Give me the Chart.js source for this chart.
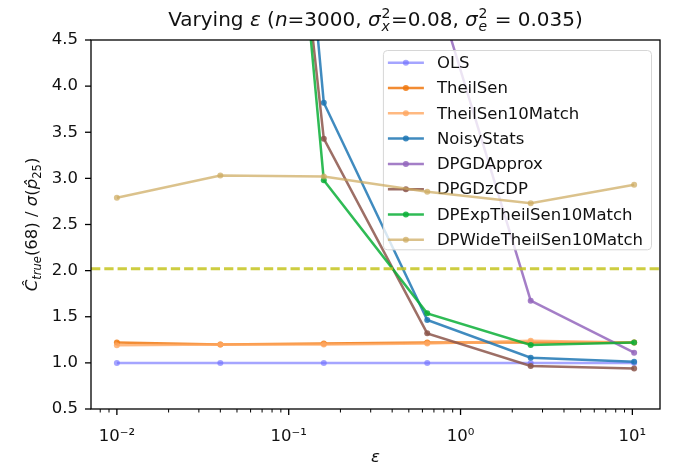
<!DOCTYPE html>
<html><head><meta charset="utf-8">
<script src="https://cdn.jsdelivr.net/npm/chart.js@4"></script>
<style>html,body{margin:0;padding:0;background:#fff;}canvas{display:block;}</style>
</head><body>
<canvas id="c" width="676" height="465"></canvas>
<script>
// ---- data ----
const epsilons = [0.01, 0.04, 0.16, 0.64, 2.56, 10.24];
const olsValues = [1.0, 1.0, 1.0, 1.0, 1.0, 1.0];
const theilSenValues = [1.22, 1.20, 1.21, 1.22, 1.22, 1.22];
const theilSen10MatchValues = [1.19, 1.20, 1.20, 1.21, 1.24, 1.22];
const noisyStatsValues = [30, 16.1, 3.82, 1.465, 1.056, 1.013];
const dpgdApproxValues = [30, 20, 10, 5.36, 1.674, 1.11];
const dpgdzcdpValues = [28, 13.7, 3.43, 1.32, 0.966, 0.94];
const dpExpTheilSenValues = [29, 15.2, 2.98, 1.537, 1.194, 1.22];
const dpWideTheilSenValues = [2.79, 3.03, 3.02, 2.855, 2.73, 2.93];
const seriesNames = ['OLS', 'TheilSen', 'TheilSen10Match', 'NoisyStats', 'DPGDApprox', 'DPGDzCDP', 'DPExpTheilSen10Match', 'DPWideTheilSen10Match'];
const seriesValues = [olsValues, theilSenValues, theilSen10MatchValues, noisyStatsValues, dpgdApproxValues, dpgdzcdpValues, dpExpTheilSenValues, dpWideTheilSenValues];
const referenceLevel = 2.02;
const yTickValues = [0.5, 1.0, 1.5, 2.0, 2.5, 3.0, 3.5, 4.0, 4.5];
const xMajorTicks = [0.01, 0.1, 1, 10];
const xMajorLabels = ['10\u207B\u00B2', '10\u207B\u00B9', '10\u2070', '10\u00B9'];

// ---- styles ----
const FAM = '"DejaVu Sans"';
const TXT = '#111';
const colors = [
  'rgba(110,110,255,0.62)',
  'rgba(240,120,15,0.85)',
  'rgba(255,168,98,0.8)',
  'rgba(31,119,180,0.85)',
  'rgba(148,103,189,0.85)',
  'rgba(140,86,75,0.85)',
  'rgba(10,175,55,0.85)',
  'rgba(205,170,95,0.72)'
];
const xMin = 0.00707, xMax = 14.48;
const xMinorTicks = [];
[0.001, 0.01, 0.1, 1].forEach(d => { for (let k = 2; k <= 9; k++) { const v = +(d * k).toPrecision(6); if (v >= xMin && v <= xMax) xMinorTicks.push(v); } });
const xAllTicks = [...xMajorTicks, ...xMinorTicks].sort((a, b) => a - b);
const isMajor = v => xMajorTicks.some(m => Math.abs(m - v) / m < 1e-6);

const datasets = seriesNames.map((name, i) => ({
  label: name,
  data: epsilons.map((x, j) => ({ x: x, y: seriesValues[i][j] })),
  borderColor: colors[i],
  backgroundColor: colors[i],
  pointBackgroundColor: colors[i],
  pointBorderWidth: 0,
  pointRadius: 3,
  borderWidth: 2.5,
  tension: 0,
  order: seriesNames.length - 1 - i,
  clip: 0
}));

function drawRich(ctx, segs, size, x, y, align) {
  const font = (it, s) => (it ? 'italic ' : '') + s + 'px ' + FAM;
  ctx.textAlign = 'left'; ctx.textBaseline = 'alphabetic';
  const meas = segs.map(sg => {
    if (sg.stack) {
      ctx.font = font(false, size * 0.7); const a = ctx.measureText(sg.sup).width;
      ctx.font = font(true, size * 0.7); const b = ctx.measureText(sg.sub).width;
      return Math.max(a, b) + size * 0.08;
    }
    ctx.font = font(sg.it, size * (sg.sc || 1));
    return ctx.measureText(sg.t).width;
  });
  const total = meas.reduce((a, b) => a + b, 0);
  let cx = align === 'center' ? x - total / 2 : x;
  segs.forEach((sg, i) => {
    if (sg.stack) {
      ctx.font = font(false, size * 0.7); ctx.fillText(sg.sup, cx + size * 0.04, y - size * 0.42);
      ctx.font = font(true, size * 0.7); ctx.fillText(sg.sub, cx + size * 0.04, y + size * 0.26);
    } else {
      ctx.font = font(sg.it, size * (sg.sc || 1));
      ctx.fillText(sg.t, cx, y + (sg.dy || 0) * size);
    }
    cx += meas[i];
  });
}

function drawLegend(chart) {
  const ctx = chart.ctx, a = chart.chartArea;
  const fs = 16.5;
  ctx.save();
  ctx.font = fs + 'px ' + FAM;
  let maxW = 0;
  chart.data.datasets.forEach(d => { maxW = Math.max(maxW, ctx.measureText(d.label).width); });
  const w = 54 + maxW + 8, pitch = 25.3, n = chart.data.datasets.length;
  const h = 12.7 + (n - 1) * pitch + 9.5;
  const left = a.right - 9 - w, top = a.top + 10;
  ctx.beginPath();
  ctx.roundRect(left + 0.5, top + 0.5, w, h, 4);
  ctx.fillStyle = 'rgba(255,255,255,0.8)';
  ctx.fill();
  ctx.strokeStyle = '#d6d6d6'; ctx.lineWidth = 1; ctx.stroke();
  chart.data.datasets.forEach((d, i) => {
    const cy = top + 12.7 + i * pitch;
    ctx.strokeStyle = d.borderColor; ctx.lineWidth = 2.5; ctx.lineCap = 'butt';
    ctx.beginPath(); ctx.moveTo(left + 5, cy); ctx.lineTo(left + 41, cy); ctx.stroke();
    ctx.fillStyle = d.borderColor;
    ctx.beginPath(); ctx.arc(left + 23, cy, 3, 0, Math.PI * 2); ctx.fill();
    ctx.fillStyle = TXT; ctx.textAlign = 'left'; ctx.textBaseline = 'middle';
    ctx.fillText(d.label, left + 54, cy + 1);
  });
  ctx.restore();
}

const decor = {
  id: 'decor',
  beforeDatasetDraw(chart, args) {
    if (args.index === chart.data.datasets.length - 1) drawLegend(chart);
  },
  afterDatasetsDraw(chart) {
    const ctx = chart.ctx, a = chart.chartArea, y = chart.scales.y.getPixelForValue(referenceLevel);
    ctx.save();
    ctx.beginPath(); ctx.rect(a.left, a.top, a.right - a.left, a.bottom - a.top); ctx.clip();
    ctx.strokeStyle = 'rgba(196,196,30,0.85)'; ctx.lineWidth = 3; ctx.setLineDash([9.3, 4]);
    ctx.beginPath(); ctx.moveTo(a.left, y); ctx.lineTo(a.right, y); ctx.stroke();
    ctx.restore();
  },
  afterDraw(chart) {
    const ctx = chart.ctx, a = chart.chartArea, xs = chart.scales.x, ys = chart.scales.y;
    ctx.save();
    ctx.strokeStyle = '#000';
    // ticks
    xs.ticks.forEach(t => {
      const px = xs.getPixelForValue(t.value);
      const maj = isMajor(t.value);
      ctx.lineWidth = maj ? 1.3 : 1;
      ctx.beginPath(); ctx.moveTo(px, a.bottom); ctx.lineTo(px, a.bottom + (maj ? 6 : 3.5)); ctx.stroke();
    });
    ys.ticks.forEach(t => {
      const py = ys.getPixelForValue(t.value);
      ctx.lineWidth = 1.3;
      ctx.beginPath(); ctx.moveTo(a.left - 6, py); ctx.lineTo(a.left, py); ctx.stroke();
    });
    // frame
    ctx.lineWidth = 1.3;
    ctx.strokeRect(a.left, a.top, a.right - a.left, a.bottom - a.top);
    // title
    ctx.fillStyle = TXT;
    const cx = (a.left + a.right) / 2;
    drawRich(ctx, [
      { t: 'Varying ' }, { t: '\u03B5', it: true }, { t: ' (' }, { t: 'n', it: true }, { t: '=3000, ' },
      { t: '\u03C3', it: true }, { stack: true, sup: '2', sub: 'x' }, { t: '=0.08, ' },
      { t: '\u03C3', it: true }, { stack: true, sup: '2', sub: 'e' }, { t: ' = 0.035)' }
    ], 20, cx, 26, 'center');
    // x label
    drawRich(ctx, [{ t: '\u03B5', it: true }], 16.5, cx, 462, 'center');
    // y label
    ctx.translate(31, (a.top + a.bottom) / 2);
    ctx.rotate(-Math.PI / 2);
    drawRich(ctx, [
      { t: '\u0108', it: true }, { t: 'true', it: true, sc: 0.7, dy: 0.22 }, { t: '(68) / ' },
      { t: '\u03C3', it: true }, { t: '(' }, { t: 'p\u0302', it: true }, { t: '25', sc: 0.7, dy: 0.22 }, { t: ')' }
    ], 16.5, 0, 6, 'center');
    ctx.restore();
  }
};

new Chart(document.getElementById('c'), {
  type: 'line',
  data: { datasets: datasets },
  plugins: [decor],
  options: {
    responsive: false,
    animation: false,
    devicePixelRatio: 1,
    events: [],
    layout: { padding: { top: 40, right: 16, left: 0, bottom: 0 } },
    plugins: { legend: { display: false }, title: { display: false }, tooltip: { enabled: false } },
    scales: {
      x: {
        type: 'logarithmic', min: xMin, max: xMax,
        afterBuildTicks: s => { s.ticks = xAllTicks.map(v => ({ value: v, major: isMajor(v) })); },
        afterFit: s => { s.height = 56; },
        grid: { display: true, drawOnChartArea: false, drawTicks: true, tickLength: 6, color: 'rgba(0,0,0,0)', tickColor: 'rgba(0,0,0,0)' },
        border: { display: false },
        ticks: {
          autoSkip: false, maxRotation: 0, minRotation: 0, padding: 12, color: TXT,
          font: { family: FAM, size: 16.5 },
          callback: v => { const k = xMajorTicks.findIndex(m => Math.abs(m - v) / m < 1e-6); return k >= 0 ? xMajorLabels[k] : ''; }
        }
      },
      y: {
        type: 'linear', min: 0.5, max: 4.5,
        afterBuildTicks: s => { s.ticks = yTickValues.map(v => ({ value: v })); },
        afterFit: s => { s.width = 91; },
        grid: { display: true, drawOnChartArea: false, drawTicks: true, tickLength: 6, color: 'rgba(0,0,0,0)', tickColor: 'rgba(0,0,0,0)' },
        border: { display: false },
        ticks: { padding: 7, color: TXT, font: { family: FAM, size: 16.5 }, callback: v => Number(v).toFixed(1) }
      }
    }
  }
});
</script>
</body></html>
